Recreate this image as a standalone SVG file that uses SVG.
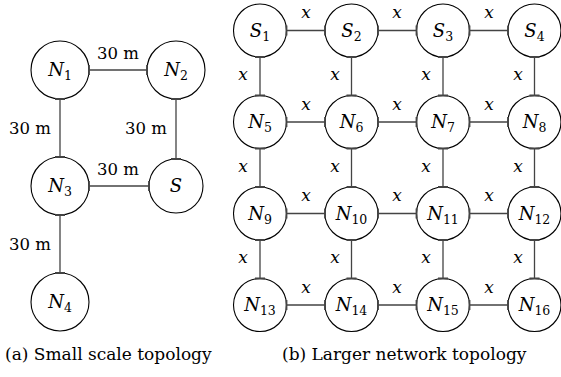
<svg xmlns="http://www.w3.org/2000/svg" width="561" height="377" viewBox="0 0 561 377">
<style>
.nd{fill:#fff;stroke:#000;stroke-width:1.1}
.sb{font-style:normal;font-size:12.5px}
.lbl{font-family:"DejaVu Serif","Liberation Serif",serif}
</style>
<g id="nodes" class="lbl" font-size="18" font-style="italic" text-anchor="middle" fill="#000">
<g id="N1"><circle class="nd" cx="60" cy="70" r="29"/><text x="60" y="76">N<tspan class="sb" dy="4">1</tspan></text></g>
<g id="N2"><circle class="nd" cx="176" cy="70" r="29"/><text x="176" y="76">N<tspan class="sb" dy="4">2</tspan></text></g>
<g id="N3"><circle class="nd" cx="60" cy="186" r="29"/><text x="60" y="192">N<tspan class="sb" dy="4">3</tspan></text></g>
<g id="S"><circle class="nd" cx="176" cy="186" r="27"/><text x="176" y="192">S</text></g>
<g id="N4"><circle class="nd" cx="60" cy="302" r="29"/><text x="60" y="308">N<tspan class="sb" dy="4">4</tspan></text></g>
<g id="S1"><circle class="nd" cx="260" cy="30.5" r="26.5"/><text x="260" y="36.5">S<tspan class="sb" dy="4">1</tspan></text></g>
<g id="S2"><circle class="nd" cx="351.5" cy="30.5" r="26.5"/><text x="351.5" y="36.5">S<tspan class="sb" dy="4">2</tspan></text></g>
<g id="S3"><circle class="nd" cx="443" cy="30.5" r="26.5"/><text x="443" y="36.5">S<tspan class="sb" dy="4">3</tspan></text></g>
<g id="S4"><circle class="nd" cx="534.5" cy="30.5" r="26.5"/><text x="534.5" y="36.5">S<tspan class="sb" dy="4">4</tspan></text></g>
<g id="N5"><circle class="nd" cx="260" cy="122" r="26.5"/><text x="260" y="128">N<tspan class="sb" dy="4">5</tspan></text></g>
<g id="N6"><circle class="nd" cx="351.5" cy="122" r="26.5"/><text x="351.5" y="128">N<tspan class="sb" dy="4">6</tspan></text></g>
<g id="N7"><circle class="nd" cx="443" cy="122" r="26.5"/><text x="443" y="128">N<tspan class="sb" dy="4">7</tspan></text></g>
<g id="N8"><circle class="nd" cx="534.5" cy="122" r="26.5"/><text x="534.5" y="128">N<tspan class="sb" dy="4">8</tspan></text></g>
<g id="N9"><circle class="nd" cx="260" cy="213.5" r="26.5"/><text x="260" y="219.5">N<tspan class="sb" dy="4">9</tspan></text></g>
<g id="N10"><circle class="nd" cx="351.5" cy="213.5" r="26.5"/><text x="351.5" y="219.5">N<tspan class="sb" dy="4">10</tspan></text></g>
<g id="N11"><circle class="nd" cx="443" cy="213.5" r="26.5"/><text x="443" y="219.5">N<tspan class="sb" dy="4">11</tspan></text></g>
<g id="N12"><circle class="nd" cx="534.5" cy="213.5" r="26.5"/><text x="534.5" y="219.5">N<tspan class="sb" dy="4">12</tspan></text></g>
<g id="N13"><circle class="nd" cx="260" cy="305" r="26.5"/><text x="260" y="311">N<tspan class="sb" dy="4">13</tspan></text></g>
<g id="N14"><circle class="nd" cx="351.5" cy="305" r="26.5"/><text x="351.5" y="311">N<tspan class="sb" dy="4">14</tspan></text></g>
<g id="N15"><circle class="nd" cx="443" cy="305" r="26.5"/><text x="443" y="311">N<tspan class="sb" dy="4">15</tspan></text></g>
<g id="N16"><circle class="nd" cx="534.5" cy="305" r="26.5"/><text x="534.5" y="311">N<tspan class="sb" dy="4">16</tspan></text></g>
</g>
<g id="connectors" stroke="#444" stroke-width="1.3" fill="none">
<path d="M89,70H147M60,99V157M176,99V159M89,186H149M60,215V273"/>
<path d="M286.5,30.5H325M378,30.5H416.5M469.5,30.5H508M286.5,122H325M378,122H416.5M469.5,122H508M286.5,213.5H325M378,213.5H416.5M469.5,213.5H508M286.5,305H325M378,305H416.5M469.5,305H508"/>
<path d="M260,57V95.5M351.5,57V95.5M443,57V95.5M534.5,57V95.5M260,148.5V187M351.5,148.5V187M443,148.5V187M534.5,148.5V187M260,240V278.5M351.5,240V278.5M443,240V278.5M534.5,240V278.5"/>
<g id="ticks" stroke-width="1.8">
<path d="M89,65V75M147,65V75M55,99H65M55,157H65M171,99H181M171,159H181M89,181V191M149,181V191M55,215H65M55,273H65"/>
<path d="M286.5,25.5V35.5M325,25.5V35.5M378,25.5V35.5M416.5,25.5V35.5M469.5,25.5V35.5M508,25.5V35.5"/>
<path d="M286.5,117V127M325,117V127M378,117V127M416.5,117V127M469.5,117V127M508,117V127"/>
<path d="M286.5,208.5V218.5M325,208.5V218.5M378,208.5V218.5M416.5,208.5V218.5M469.5,208.5V218.5M508,208.5V218.5"/>
<path d="M286.5,300V310M325,300V310M378,300V310M416.5,300V310M469.5,300V310M508,300V310"/>
<path d="M255,57H265M346.5,57H356.5M438,57H448M529.5,57H539.5M255,95.5H265M346.5,95.5H356.5M438,95.5H448M529.5,95.5H539.5"/>
<path d="M255,148.5H265M346.5,148.5H356.5M438,148.5H448M529.5,148.5H539.5M255,187H265M346.5,187H356.5M438,187H448M529.5,187H539.5"/>
<path d="M255,240H265M346.5,240H356.5M438,240H448M529.5,240H539.5M255,278.5H265M346.5,278.5H356.5M438,278.5H448M529.5,278.5H539.5"/>
</g>
</g>
<g id="edge-labels" class="lbl" fill="#000" stroke="none" text-anchor="middle">
<g font-size="16.5">
<text x="118" y="59">30 m</text>
<text x="30" y="134">30 m</text>
<text x="146" y="134">30 m</text>
<text x="118" y="175">30 m</text>
<text x="30" y="250">30 m</text>
</g>
<g font-size="17" font-style="italic">
<text x="306" y="18">x</text>
<text x="397" y="18">x</text>
<text x="489" y="18">x</text>
<text x="306" y="110">x</text>
<text x="397" y="110">x</text>
<text x="489" y="110">x</text>
<text x="306" y="201">x</text>
<text x="397" y="201">x</text>
<text x="489" y="201">x</text>
<text x="306" y="293">x</text>
<text x="397" y="293">x</text>
<text x="489" y="293">x</text>
<text x="243" y="80">x</text>
<text x="335" y="80">x</text>
<text x="426" y="80">x</text>
<text x="518" y="80">x</text>
<text x="243" y="172">x</text>
<text x="335" y="172">x</text>
<text x="426" y="172">x</text>
<text x="518" y="172">x</text>
<text x="243" y="263">x</text>
<text x="335" y="263">x</text>
<text x="426" y="263">x</text>
<text x="518" y="263">x</text>
</g>
</g>
<g id="captions" class="lbl" font-size="17" fill="#000">
<text x="5" y="360">(a) Small scale topology</text>
<text x="282" y="360">(b) Larger network topology</text>
</g>
</svg>
